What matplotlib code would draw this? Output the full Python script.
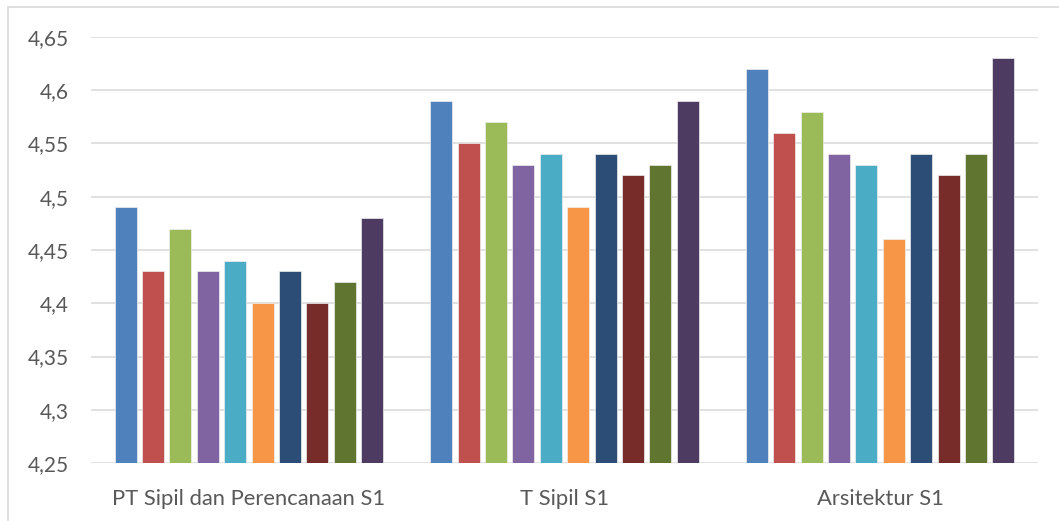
import matplotlib.pyplot as plt
import numpy as np
from matplotlib.patches import Rectangle
from matplotlib.ticker import FuncFormatter

categories = ["PT Sipil dan Perencanaan S1", "T Sipil S1", "Arsitektur S1"]

# one list per series (10 series, one bar in each category)
s1 = [4.49, 4.59, 4.62]
s2 = [4.43, 4.55, 4.56]
s3 = [4.47, 4.57, 4.58]
s4 = [4.43, 4.53, 4.54]
s5 = [4.44, 4.54, 4.53]
s6 = [4.40, 4.49, 4.46]
s7 = [4.43, 4.54, 4.54]
s8 = [4.40, 4.52, 4.52]
s9 = [4.42, 4.53, 4.54]
s10 = [4.48, 4.59, 4.63]
series = [s1, s2, s3, s4, s5, s6, s7, s8, s9, s10]

yticks = [4.25, 4.3, 4.35, 4.4, 4.45, 4.5, 4.55, 4.6, 4.65]

colors = [
    "#4F81BD", "#C0504D", "#9BBB59", "#8064A2", "#4BACC6",
    "#F79646", "#2C4D75", "#772C2A", "#5F7530", "#4D3B62",
]

plt.rcParams["font.family"] = ["Lato", "DejaVu Sans"]

fig = plt.figure(figsize=(10.59, 5.21), dpi=100)
ax = fig.add_axes([0.0859, 0.1113, 0.8943, 0.8177])

x = np.arange(len(categories))
pitch = 0.0868
width = 0.0697
n = len(series)
for i, vals in enumerate(series):
    offs = (i - (n - 1) / 2) * pitch
    base = yticks[0]
    ax.bar(x + offs, np.array(vals) - base, width=width, bottom=base,
           color=colors[i], edgecolor="#EEEEEE", linewidth=0.5, zorder=3)

ax.set_xlim(-0.5, len(categories) - 0.5)
ax.set_ylim(yticks[0], yticks[-1])
ax.set_yticks(yticks)
ax.yaxis.set_major_formatter(
    FuncFormatter(lambda v, _: f"{v:g}".replace(".", ","))
)
ax.set_xticks(x)
ax.set_xticklabels(categories)

ax.grid(axis="y", color="#D9D9D9", linewidth=1.1, zorder=0)
for sp in ax.spines.values():
    sp.set_visible(False)
ax.tick_params(axis="both", length=0, colors="#595959")
ax.tick_params(axis="y", pad=16, labelsize=15)
ax.tick_params(axis="x", pad=19, labelsize=15.8)

# light frame around the chart area
fig.patches.append(Rectangle((8 / 1059, -0.01), 1.02, 1 - 7 / 521 + 0.01,
                             transform=fig.transFigure, fill=False,
                             edgecolor="#D9D9D9", linewidth=1.2))

fig.savefig("out.png", dpi=100)
